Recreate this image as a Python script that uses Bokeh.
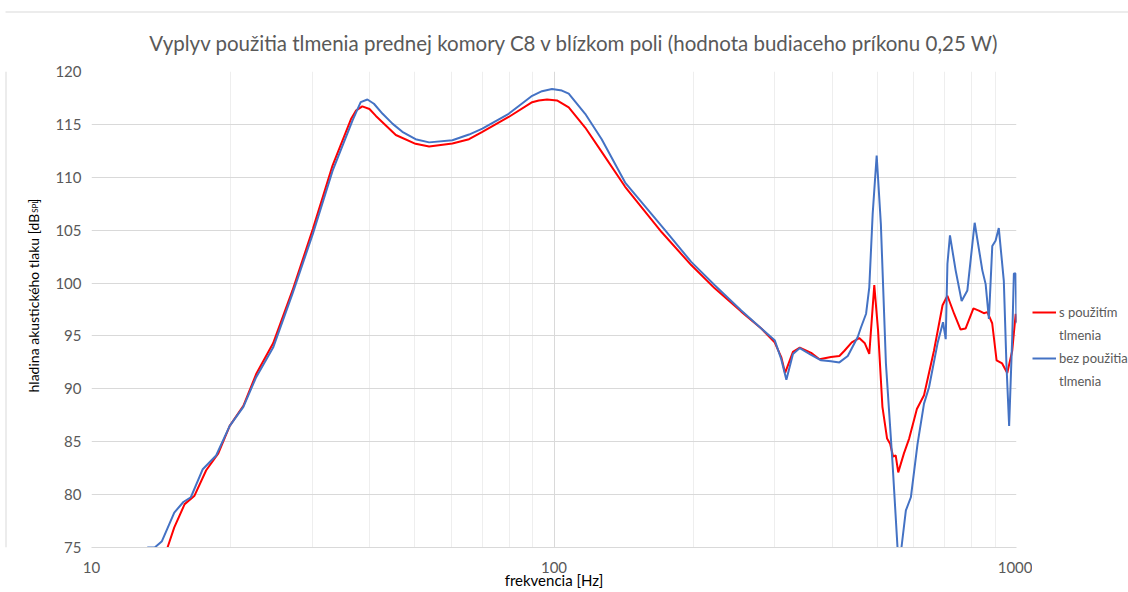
import math
from bokeh.plotting import figure
from bokeh.layouts import row, column
from bokeh.models import Range1d, FixedTicker, Legend, LegendItem, PrintfTickFormatter
from bokeh.core.properties import value
from bokeh.embed import file_html
from bokeh.resources import INLINE

# ---- data ----
freq_red = [14.3, 14.6, 15.1, 15.9, 16.7, 17.7, 18.8, 19.9, 21.3, 22.7, 24.7, 27.2, 30.1, 33.2,
            36.4, 37.3, 38.5, 39.9, 41.2, 45.5, 50.2, 53.7, 60.3, 65.5, 70.0, 79.8, 89.7, 92.7, 96.6,
            101.5, 107.6, 116.8, 126.8,
            142.5, 171, 198, 222.6, 254, 280.7, 300, 310, 316, 328.6, 340, 359.7, 375, 397,
            414, 424.6, 440.4, 457, 470, 480.5, 492.6, 502, 513, 525, 533, 541, 548, 555, 571,
            586, 609, 631, 663, 692, 709, 733, 757, 776, 807, 829, 850, 865, 886, 905.6, 931,
            955, 979, 996, 1000]
spl_red = [74.0, 75.0, 76.9, 79.1, 79.9, 82.3, 83.9, 86.5, 88.4, 91.4, 94.3, 99.3, 105.1, 111.1,
           115.5, 116.3, 116.7, 116.45, 115.8, 114.0, 113.16, 112.9, 113.2, 113.6, 114.3, 115.7, 117.1, 117.26, 117.35,
           117.26, 116.6, 114.7, 112.4,
           109.1, 104.8, 101.7, 99.5, 97.3, 95.7, 94.4, 93.0, 91.5, 93.5, 93.9, 93.4, 92.8, 93.0,
           93.1, 93.6, 94.4, 94.8, 94.3, 93.3, 99.8, 95.5, 88.3, 85.3, 84.8, 83.6, 83.7, 82.1, 83.9,
           85.3, 88.1, 89.4, 93.6, 97.9, 98.8, 97.1, 95.6, 95.7, 97.6, 97.4, 97.15, 97.25, 96.2, 92.7, 92.4,
           91.5, 93.6, 97.1, 96.3]

freq_blue = [13.2, 13.7, 14.2, 15.1, 15.8, 16.4, 17.4, 18.6, 19.9, 21.3, 22.7, 24.7, 27.2, 30.1,
             33.2, 36.7, 38.2, 39.5, 40.8, 42.6, 44.8, 47.0, 50.2, 53.7, 60.3, 65.5, 70.0, 79.8, 89.7, 94.2,
             99, 104, 107.6, 116.8, 126.8,
             142.5, 173.8, 198, 222.6, 254, 280.7, 300, 310, 318, 328.6, 340, 359.7, 378, 397, 414,
             431.7, 453.6, 461, 472.9, 480.5, 488.7, 498.5, 509, 522, 539.6, 553, 558, 564, 576.5,
             591, 611, 631, 647, 675, 693.6, 703, 709, 718, 738.6, 761, 783, 812, 843.6, 857.6,
             871.6, 886.4, 901, 915.6, 938.8, 951, 964, 979, 987, 996, 1000]
spl_blue = [75.0, 75.0, 75.6, 78.3, 79.3, 79.75, 82.4, 83.7, 86.5, 88.3, 91.1, 93.9, 99.0, 104.65,
            110.6, 115.4, 117.1, 117.35, 116.95, 116.0, 115.05, 114.3, 113.6, 113.3, 113.5, 114.04, 114.6, 116.0, 117.7, 118.14,
            118.35, 118.2, 117.9, 116.0, 113.6,
            109.5, 105.0, 102.0, 99.8, 97.4, 95.7, 94.6, 92.8, 90.85, 93.3, 93.85, 93.2, 92.7, 92.6, 92.5,
            93.1, 94.9, 95.8, 97.1, 99.6, 106.55, 112.06, 105.6, 92.4, 82.9, 75.0, 72.0, 75.0, 78.5,
            79.75, 84.8, 88.6, 90.15, 94.3, 96.3, 94.7, 101.8, 104.5, 101.2, 98.3, 99.3, 105.7, 101.2, 99.9,
            96.6, 103.5, 104.0, 105.2, 100.2, 92.4, 86.5, 94.9, 100.9, 100.9, 96.2]

x_ticks = [10, 100, 1000]
x_minor_ticks = [20, 30, 40, 50, 60, 70, 80, 90, 200, 300, 400, 500, 600, 700, 800, 900]
y_ticks = [75, 80, 85, 90, 95, 100, 105, 110, 115, 120]

title_text = "Vyplyv použitia tlmenia prednej komory C8 v blízkom poli (hodnota budiaceho príkonu 0,25 W)"
x_label = "frekvencia [Hz]"
y_label_main = "hladina akustického tlaku [dB"
y_label_sub = "SPL"
y_label_end = "]"
legend_red = ["s použitím", "tlmenia"]
legend_blue = ["bez použitia", "tlmenia"]

FONT = "Lato"
GRAY = "#595959"
BORDER = "#d9d9d9"
RED = "#ff0000"
BLUE = "#4472c4"

TOP_H = 60
LEFT_W = 52
RIGHT_W = 96
FIG_H = 592 - TOP_H


def bare(fig):
    fig.xaxis.visible = False
    fig.yaxis.visible = False
    fig.xgrid.visible = False
    fig.ygrid.visible = False
    fig.outline_line_color = None
    fig.background_fill_alpha = 0
    fig.border_fill_alpha = 0
    fig.min_border_left = 0
    fig.min_border_right = 0
    fig.min_border_top = 0
    fig.min_border_bottom = 0


# top strip: chart-area border and the chart title
top = figure(width=1128, height=TOP_H, x_range=Range1d(0, 1128), y_range=Range1d(0, TOP_H),
             output_backend="svg", toolbar_location=None)
bare(top)
top.segment(x0=[5], y0=[TOP_H - 11.5], x1=[1128], y1=[TOP_H - 11.5], line_color=BORDER, line_width=1)
top.text(x=[574], y=[TOP_H - 42.5], text=[title_text], text_align="center", text_baseline="alphabetic",
         text_font=value(FONT), text_font_size="20.5px", text_color=GRAY)

# left strip: chart-area border and the rotated y axis title (with subscript)
left = figure(width=LEFT_W, height=FIG_H, x_range=Range1d(0, LEFT_W), y_range=Range1d(0, FIG_H),
              output_backend="svg", toolbar_location=None)
bare(left)
left.segment(x0=[5.5], y0=[0], x1=[5.5], y1=[FIG_H], line_color=BORDER, line_width=1)
left.text(x=[33], y=[592 - 219], text=[y_label_main], angle=math.pi / 2,
          text_align="right", text_baseline="alphabetic",
          text_font=value(FONT), text_font_size="14px", text_color="#000000")
left.text(x=[34.5], y=[592 - 218], text=[y_label_sub], angle=math.pi / 2,
          text_align="left", text_baseline="alphabetic",
          text_font=value(FONT), text_font_size="8px", text_color="#000000")
left.text(x=[33], y=[592 - 207], text=[y_label_end], angle=math.pi / 2,
          text_align="left", text_baseline="alphabetic",
          text_font=value(FONT), text_font_size="14px", text_color="#000000")

# main chart
p = figure(width=1128 - LEFT_W - RIGHT_W, height=FIG_H, x_axis_type="log",
           x_range=Range1d(10, 1000), y_range=Range1d(75, 120),
           output_backend="svg", toolbar_location=None,
           min_border_left=88 - LEFT_W, min_border_right=1128 - RIGHT_W - 1016,
           min_border_top=71 - TOP_H, min_border_bottom=45)
p.outline_line_color = None

p.xaxis.ticker = FixedTicker(ticks=x_ticks, minor_ticks=x_minor_ticks)
p.xaxis.formatter = PrintfTickFormatter(format="%d")
p.yaxis.ticker = FixedTicker(ticks=y_ticks)
for ax in (p.xaxis[0], p.yaxis[0]):
    ax.major_tick_line_color = None
    ax.minor_tick_line_color = None
    ax.major_tick_out = 0
    ax.major_tick_in = 0
    ax.minor_tick_out = 0
    ax.minor_tick_in = 0
    ax.major_label_text_font = FONT
    ax.major_label_text_font_size = "15px"
    ax.major_label_text_color = GRAY
p.xaxis.axis_line_color = BORDER
p.yaxis.axis_line_color = None
p.xaxis.major_label_standoff = 14
p.yaxis.major_label_standoff = 10
p.xaxis.axis_label = x_label
p.xaxis.axis_label_standoff = -5
p.xaxis.axis_label_text_font = FONT
p.xaxis.axis_label_text_font_size = "15px"
p.xaxis.axis_label_text_font_style = "normal"
p.xaxis.axis_label_text_color = "#000000"

p.xgrid.grid_line_color = BORDER
p.xgrid.minor_grid_line_color = "#eeeeee"
p.ygrid.grid_line_color = BORDER

p.line(freq_red, spl_red, line_color=RED, line_width=2)
p.line(freq_blue, spl_blue, line_color=BLUE, line_width=2)

# right strip: legend; its key renderers sit outside the strip's visible ranges
right = figure(width=RIGHT_W, height=FIG_H, x_range=Range1d(0, RIGHT_W), y_range=Range1d(0, FIG_H),
               output_backend="svg", toolbar_location=None)
bare(right)
k_red = right.line([-100, -90], [-100, -100], line_color=RED, line_width=2)
k_blue = right.line([-100, -90], [-100, -100], line_color=BLUE, line_width=2)
k_blank = right.line([-100, -90], [-100, -100], line_alpha=0)
legend = Legend(items=[LegendItem(label=legend_red[0], renderers=[k_red]),
                       LegendItem(label=legend_red[1], renderers=[k_blank]),
                       LegendItem(label=legend_blue[0], renderers=[k_blue]),
                       LegendItem(label=legend_blue[1], renderers=[k_blank])],
                location=(0, 156), padding=0, margin=0, spacing=3,
                glyph_width=24, glyph_height=20, label_height=20, label_standoff=3,
                label_text_font=FONT, label_text_font_size="13px", label_text_color=GRAY,
                background_fill_alpha=0, border_line_color=None)
right.add_layout(legend, "center")

layout = column(top, row(left, p, right, spacing=0), spacing=0)
open("out.html", "w").write(file_html(layout, INLINE))
